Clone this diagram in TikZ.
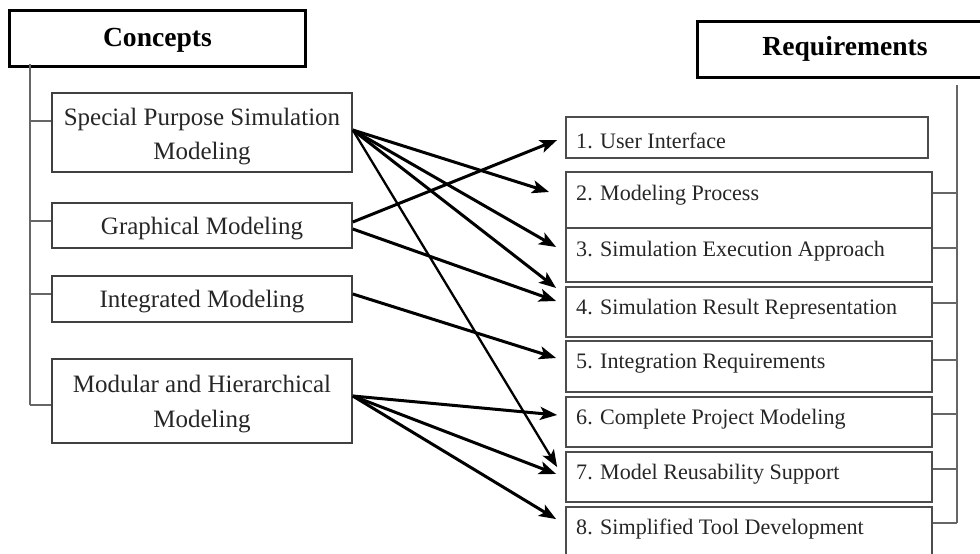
\documentclass[tikz,border=0pt]{standalone}
\usepackage{fontspec}
\setmainfont{Liberation Serif}
\usetikzlibrary{arrows.meta}
\begin{document}
\begin{tikzpicture}[x=1pt,y=-1pt,
  head/.style={draw=black, line width=3pt, minimum width=296pt, minimum height=56pt},
  htext/.style={inner sep=0pt, font=\fontsize{27.6}{32}\selectfont\bfseries},
  lbox/.style={draw=black!75, line width=1.6pt, minimum width=300pt},
  ltext/.style={inner sep=0pt, align=center, font=\fontsize{25}{34.5}\selectfont, text=black!85},
  rbox/.style={draw=black!70, line width=1.8pt, minimum width=366pt},
  rtext/.style={anchor=west, inner sep=0pt, font=\fontsize{22.1}{26}\selectfont, text=black!85},
  tree/.style={draw=black!60, line width=1.5pt},
  arr/.style={draw=black, line width=3pt, -{Stealth[length=17pt,width=13pt,inset=4pt]}},
  thinarr/.style={arr, line width=2.3pt}]
\useasboundingbox (0,0) rectangle (980,554);

% headers
\node[head] (con) at (157.5,38.5) {};
\node[htext] (cont) at (157.5,40) {Concepts};
\node[head] (req) at (845,49) {};
\node[htext] (reqt) at (845,49) {Requirements};

% left boxes
\node[lbox, minimum height=79pt] (s1) at (202,132.5) {};
\node[lbox, minimum height=45pt] (g) at (202,225.5) {};
\node[lbox, minimum height=46pt] (i) at (202,299) {};
\node[lbox, minimum height=84pt] (m) at (202,401) {};
\node[ltext] (s1t) at (202,136.5) {Special Purpose Simulation\\Modeling};
\node[ltext] (gt) at (202,229) {Graphical Modeling};
\node[ltext] (it) at (202,302) {Integrated Modeling};
\node[ltext] (mt) at (202,404) {Modular and Hierarchical\\Modeling};

% right boxes
\node[rbox, minimum width=362pt, minimum height=41pt] (b1) at (747,137.5) {};
\node[rbox, minimum height=56pt] (b2) at (749,200) {};
\node[rbox, minimum height=54pt] (b3) at (749,255) {};
\node[rbox, minimum height=50pt] (b4) at (749,312) {};
\node[rbox, minimum height=51pt] (b5) at (749,366.5) {};
\node[rbox, minimum height=50pt] (b6) at (749,422) {};
\node[rbox, minimum height=50pt] (b7) at (749,477) {};
\node[rbox, minimum height=63pt] (b8) at (749,538.5) {};

\node[rtext] (t1) at (576,141) {1. User Interface};
\node[rtext] (t2) at (576,195) {2. Modeling Process};
\node[rtext] (t3) at (576,251) {3. Simulation Execution Approach};
\node[rtext] (t4) at (576,309) {4. Simulation Result Representation};
\node[rtext] (t5) at (576,364) {5. Integration Requirements};
\node[rtext] (t6) at (576,419) {6. Complete Project Modeling};
\node[rtext] (t7) at (576,474) {7. Model Reusability Support};
\node[rtext] (t8) at (576,529) {8. Simplified Tool Development};

% left tree
\coordinate (lt) at (30,64);
\coordinate (lb) at (30,405);
\draw[tree] (lt) -- (lb);
\draw[tree] (30,121) -- (s1.west |- 0,121);
\draw[tree] (30,221) -- (g.west |- 0,221);
\draw[tree] (30,294) -- (i.west |- 0,294);
\draw[tree] (lb) -- (m.west |- lb);

% right tree
\coordinate (rt) at (957,85);
\coordinate (rb) at (957,523);
\draw[tree] (rt) -- (rb);
\draw[tree] (b2.east |- 0,193) -- (957,193);
\draw[tree] (b3.east |- 0,248) -- (957,248);
\draw[tree] (b4.east |- 0,303) -- (957,303);
\draw[tree] (b5.east |- 0,360) -- (957,360);
\draw[tree] (b6.east |- 0,414) -- (957,414);
\draw[tree] (b7.east |- 0,469) -- (957,469);
\draw[tree] (b8.east |- rb) -- (rb);

% arrows
\draw[arr] ([yshift=2.5pt]s1.east) -- ([xshift=-16pt,yshift=8pt]b2.west);
\draw[arr] ([yshift=2.5pt]s1.east) -- ([xshift=-9pt,yshift=8pt]b3.west);
\draw[arr] ([yshift=2.5pt]s1.east) -- ([xshift=-9pt,yshift=24pt]b4.west);
\draw[thinarr] ([yshift=2.5pt]s1.east) -- ([xshift=-8pt,yshift=10pt]b7.west);
\draw[arr] ([yshift=3.5pt]g.east) -- ([xshift=-8pt,yshift=-2.5pt]b1.west);
\draw[arr] ([yshift=-3.5pt]g.east) -- ([xshift=-9pt,yshift=11pt]b4.west);
\draw[arr] ([yshift=5pt]i.east) -- ([xshift=-9pt,yshift=8.5pt]b5.west);
\draw[arr] ([yshift=5pt]m.east) -- ([xshift=-8pt,yshift=7pt]b6.west);
\draw[arr] ([yshift=5pt]m.east) -- ([xshift=-9pt,yshift=3pt]b7.west);
\draw[arr] ([yshift=5pt]m.east) -- ([xshift=-9pt,yshift=-13pt]b8.north west);
\end{tikzpicture}
\end{document}
